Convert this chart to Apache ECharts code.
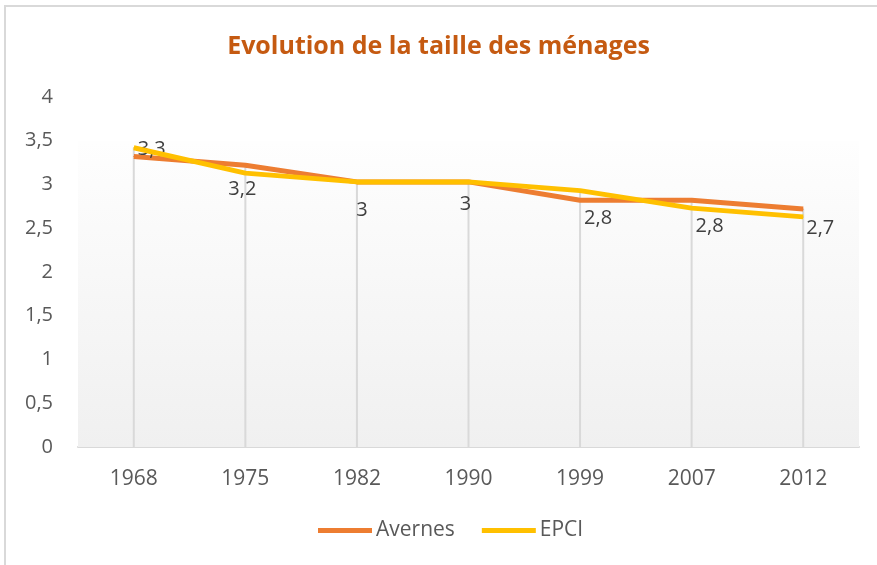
<!DOCTYPE html>
<html>
<head>
<meta charset="utf-8">
<title>Evolution de la taille des ménages</title>
<script src="https://cdn.jsdelivr.net/npm/echarts@6/dist/echarts.min.js"></script>
<style>
  html, body { margin: 0; padding: 0; background: #fff; }
  #chart { width: 877px; height: 565px; }
</style>
</head>
<body>
<div id="chart"></div>
<script>
/* données */
var annees = ['1968', '1975', '1982', '1990', '1999', '2007', '2012'];
var avernes = [3.32, 3.22, 3.03, 3.03, 2.82, 2.82, 2.72];
var epci = [3.42, 3.13, 3.03, 3.03, 2.93, 2.73, 2.63];
var yTicks = [0, 0.5, 1, 1.5, 2, 2.5, 3, 3.5, 4];

/* décalage des étiquettes (style uniquement) */
var labelDecal = [[18, -7], [-3, 24], [5, 28], [-3, 22], [18, 18], [18, 26], [17, 19]];

var police = '"Open Sans", "DejaVu Sans", sans-serif';

function virgule(v) {
    return String(Math.round(v * 10) / 10).replace('.', ',');
}

/* lignes de projection : du point le plus haut jusqu'à l'axe */
var projection = annees.map(function (a, i) {
    return Math.max(avernes[i], epci[i]);
});

var avernesData = avernes.map(function (v, i) {
    return {
        value: v,
        label: { position: 'inside', offset: labelDecal[i] }
    };
});

var chart = echarts.init(document.getElementById('chart'));
chart.setOption({
    backgroundColor: '#ffffff',
    animation: false,
    title: {
        text: 'Evolution de la taille des ménages',
        left: 'center',
        top: 29,
        textStyle: { color: '#c55a11', fontSize: 25, fontWeight: 'bold', fontFamily: police }
    },
    graphic: [{
        type: 'rect',
        shape: { x: 5, y: 6, width: 900, height: 600 },
        style: { fill: 'none', stroke: '#d9d9d9', lineWidth: 2 },
        silent: true,
        z: -10
    }],
    legend: {
        bottom: 24,
        left: 318,
        padding: 0,
        itemWidth: 54,
        itemHeight: 5,
        itemGap: 27,
        icon: 'rect',
        data: ['Avernes', 'EPCI'],
        textStyle: { color: '#595959', fontSize: 21, fontFamily: police, padding: [0, 0, 0, -1] }
    },
    grid: { left: 78, right: 18, top: 97, bottom: 118 },
    xAxis: {
        type: 'category',
        data: annees,
        boundaryGap: true,
        axisLine: { lineStyle: { color: '#d9d9d9', width: 2 } },
        axisTick: { show: false },
        axisLabel: { color: '#595959', fontSize: 21, fontFamily: police, margin: 22 }
    },
    yAxis: {
        type: 'value',
        min: 0,
        max: 4,
        interval: 0.5,
        axisLine: { show: false },
        axisTick: { show: false },
        splitLine: { show: false },
        axisLabel: {
            color: '#595959', fontSize: 20, fontFamily: police, margin: 25,
            formatter: function (v) { return yTicks.indexOf(v) >= 0 ? virgule(v) : ''; }
        }
    },
    series: [
        {
            name: 'fond',
            type: 'line',
            data: [],
            silent: true,
            markArea: {
                silent: true,
                itemStyle: {
                    color: new echarts.graphic.LinearGradient(0, 0, 0, 1, [
                        { offset: 0, color: '#fefefe' },
                        { offset: 1, color: '#f0f0f0' }
                    ])
                },
                data: [[{ yAxis: 0 }, { yAxis: 3.5 }]]
            },
            z: 0
        },
        {
            name: 'projection',
            type: 'bar',
            data: projection,
            barWidth: 2,
            silent: true,
            itemStyle: { color: '#d9d9d9' },
            z: 1
        },
        {
            name: 'Avernes',
            type: 'line',
            data: avernesData,
            symbol: 'circle',
            symbolSize: 1,
            lineStyle: { color: '#ed7d31', width: 5 },
            itemStyle: { color: '#ed7d31' },
            label: {
                show: true,
                color: '#404040',
                fontSize: 20,
                fontFamily: police,
                formatter: function (p) { return virgule(p.value); }
            },
            z: 3
        },
        {
            name: 'EPCI',
            type: 'line',
            data: epci,
            symbol: 'circle',
            symbolSize: 1,
            lineStyle: { color: '#ffc000', width: 5 },
            itemStyle: { color: '#ffc000' },
            z: 4
        }
    ]
});
</script>
</body>
</html>
